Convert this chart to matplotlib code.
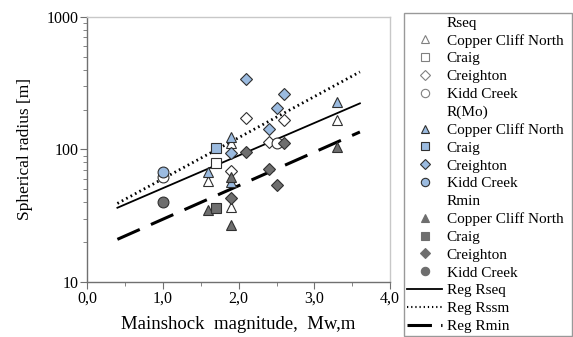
import matplotlib
matplotlib.use("Agg")
import matplotlib.pyplot as plt
import numpy as np
from matplotlib.lines import Line2D
from matplotlib.ticker import FixedLocator, LogLocator, NullFormatter

plt.rcParams['font.family'] = ['Liberation Serif', 'DejaVu Serif']

# ---- data ----
# Rseq (open markers)
rseq_ccn_x = [1.6, 1.9, 1.9, 3.3]
rseq_ccn_y = [58, 112, 37, 168]
rseq_craig_x = [1.7]
rseq_craig_y = [79]
rseq_crei_x = [2.1, 1.9, 2.4, 2.6]
rseq_crei_y = [173, 69, 114, 168]
rseq_kidd_x = [1.0, 2.5]
rseq_kidd_y = [62, 112]

# R(Mo) (blue markers)
rmo_ccn_x = [1.6, 1.9, 1.9, 3.3]
rmo_ccn_y = [68, 125, 57, 229]
rmo_craig_x = [1.7]
rmo_craig_y = [102]
rmo_crei_x = [2.1, 1.9, 2.4, 2.5, 2.6]
rmo_crei_y = [337, 94, 142, 207, 261]
rmo_kidd_x = [1.0]
rmo_kidd_y = [68]

# Rmin (dark markers)
rmin_ccn_x = [1.6, 1.9, 1.9, 3.3]
rmin_ccn_y = [35, 62, 27, 105]
rmin_craig_x = [1.7]
rmin_craig_y = [36]
rmin_crei_x = [1.9, 2.1, 2.4, 2.5, 2.6]
rmin_crei_y = [43, 96, 71, 54, 111]
rmin_kidd_x = [1.0]
rmin_kidd_y = [40]

# regression lines: log10(R) = a + b*M
reg_range = [0.4, 3.6]
reg_rseq = (1.462, 0.246)
reg_rssm = (1.469, 0.310)
reg_rmin = (1.221, 0.253)

x_ticks = [0.0, 1.0, 2.0, 3.0, 4.0]
x_ticklabels = ['0,0', '1,0', '2,0', '3,0', '4,0']
y_ticks = [10, 100, 1000]
y_ticklabels = ['10', '100', '1000']

# ---- plot ----
fig = plt.figure(figsize=(5.73, 3.37), dpi=100)
ax = fig.add_axes([0.152, 0.163, 0.529, 0.787])

blue = '#9bbbe0'
dark = '#6e6e6e'
ms = 7.8
open_edge = '#303030'

groups = [
    (rseq_ccn_x, rseq_ccn_y, '^', 'white', open_edge),
    (rseq_craig_x, rseq_craig_y, 's', 'white', open_edge),
    (rseq_crei_x, rseq_crei_y, 'D', 'white', open_edge),
    (rseq_kidd_x, rseq_kidd_y, 'o', 'white', open_edge),
    (rmo_ccn_x, rmo_ccn_y, '^', blue, '#303030'),
    (rmo_craig_x, rmo_craig_y, 's', blue, '#303030'),
    (rmo_crei_x, rmo_crei_y, 'D', blue, '#303030'),
    (rmo_kidd_x, rmo_kidd_y, 'o', blue, '#303030'),
    (rmin_ccn_x, rmin_ccn_y, '^', dark, '#303030'),
    (rmin_craig_x, rmin_craig_y, 's', dark, '#303030'),
    (rmin_crei_x, rmin_crei_y, 'D', dark, '#303030'),
    (rmin_kidd_x, rmin_kidd_y, 'o', dark, '#303030'),
]
for gx, gy, m, fc, ec in groups:
    size = ms * 0.8 if m == 'D' else ms
    ax.plot(gx, gy, linestyle='none', marker=m, markersize=size,
            markerfacecolor=fc, markeredgecolor=ec, markeredgewidth=0.8, zorder=3)

xr = np.array(reg_range)
ax.plot(xr, 10 ** (reg_rseq[0] + reg_rseq[1] * xr), color='black', lw=1.3, zorder=2)
ax.plot(xr, 10 ** (reg_rssm[0] + reg_rssm[1] * xr), color='black', lw=2.0,
        linestyle=(0, (0.6, 1.2)), zorder=2)
ax.plot(xr, 10 ** (reg_rmin[0] + reg_rmin[1] * xr), color='black', lw=2.2,
        linestyle=(0, (8, 4)), zorder=2)

ax.set_yscale('log')
ax.set_xlim(0, 4)
ax.set_ylim(10, 1000)
ax.set_xticks(x_ticks)
ax.set_xticklabels(x_ticklabels)
ax.xaxis.set_minor_locator(FixedLocator([0.5, 1.5, 2.5, 3.5]))
ax.set_yticks(y_ticks)
ax.set_yticklabels(y_ticklabels)
ax.yaxis.set_minor_locator(LogLocator(base=10, subs=np.arange(2, 10)))
ax.yaxis.set_minor_formatter(NullFormatter())

for s in ['left', 'bottom']:
    ax.spines[s].set_color('#707070')
    ax.spines[s].set_linewidth(1.0)
for s in ['top', 'right']:
    ax.spines[s].set_color('#c8c8c8')
    ax.spines[s].set_linewidth(1.0)
ax.tick_params(axis='both', which='major', direction='out', length=5, color='#707070',
               labelsize=11.5, pad=1)
ax.tick_params(axis='both', which='minor', direction='out', length=3, color='#707070')
ax.tick_params(top=False, right=False, which='both')

ax.set_xlabel('Mainshock  magnitude,  Mw,m', fontsize=13.5, labelpad=7)
ax.set_ylabel('Spherical radius [m]', fontsize=12.5, labelpad=10)

# legend
def mk(m, fc, ec):
    s = 6 if m != 'D' else 5
    return Line2D([], [], linestyle='none', marker=m, markersize=s,
                  markerfacecolor=fc, markeredgecolor=ec, markeredgewidth=0.8)

blank = Line2D([], [], linestyle='none')
names = ['Copper Cliff North', 'Craig', 'Creighton', 'Kidd Creek']
marks = ['^', 's', 'D', 'o']
handles, labels = [], []
for header, fc, ec in [('Rseq', 'white', '#808080'), ('R(Mo)', blue, '#303030'),
                       ('Rmin', dark, dark)]:
    handles.append(blank)
    labels.append(header)
    for n, m in zip(names, marks):
        handles.append(mk(m, fc, ec))
        labels.append(n)
handles += [Line2D([], [], color='black', lw=1.3),
            Line2D([], [], color='black', lw=1.5, linestyle=(0, (0.6, 1.4))),
            Line2D([], [], color='black', lw=2.2, linestyle=(0, (8, 3)))]
labels += ['Reg Rseq', 'Reg Rssm', 'Reg Rmin']

leg = fig.legend(handles, labels, loc='upper left',
                 bbox_to_anchor=(404 / 573, 1 - 13 / 337, 168 / 573, 0.0),
                 mode='expand',
                 fontsize=11, frameon=True, fancybox=False,
                 labelspacing=0.27, handlelength=2.3, handletextpad=0.3,
                 borderpad=0.2, borderaxespad=0)
leg.get_frame().set_edgecolor('#808080')
leg.get_frame().set_linewidth(1.0)

fig.savefig('out.png', dpi=100)
